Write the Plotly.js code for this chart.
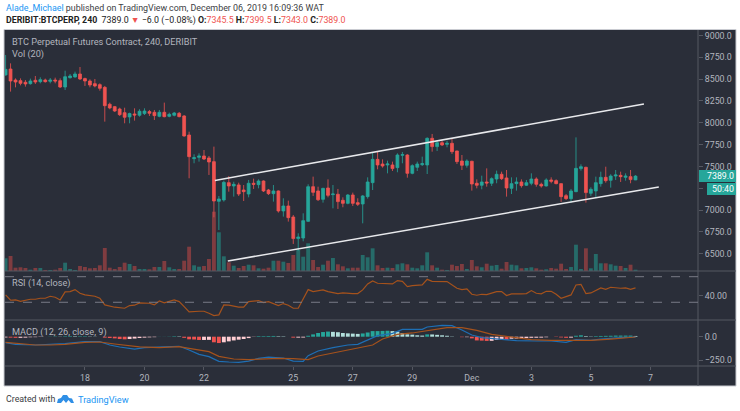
<!DOCTYPE html>
<html>
<head>
<meta charset="utf-8">
<script src="https://cdn.plot.ly/plotly-3.0.1.min.js"></script>
<style>
  html, body { margin: 0; padding: 0; background: #fff; }
  #chart { width: 740px; height: 411px; }
</style>
</head>
<body>
<div id="chart"></div>
<script>
// --- values, one entry per 4h candle ---
const opens = [
  8548, 8616, 8490, 8483, 8464, 8448, 8487, 8471, 8490, 8475,
  8490, 8483, 8410, 8517, 8525, 8559, 8506, 8479, 8448, 8437,
  8406, 8212, 8185, 8158, 8116, 8067, 8101, 8086, 8105, 8128,
  8120, 8074, 8120, 8074, 8086, 8109, 8078, 7860, 7589, 7604,
  7620, 7597, 7555, 7100, 7116, 7314, 7276, 7288, 7230, 7184,
  7307, 7291, 7333, 7230, 7188, 7219, 6990, 7047, 6921, 6673,
  6680, 6871, 7268, 7219, 7123, 7253, 7177, 7181, 7112, 7077,
  7173, 7085, 7070, 7154, 7314, 7581, 7528, 7517, 7517, 7486,
  7627, 7631, 7421, 7490, 7520, 7517, 7822, 7727, 7772, 7753,
  7765, 7677, 7562, 7513, 7559, 7307, 7284, 7322, 7307, 7356,
  7410, 7368, 7249, 7303, 7322, 7284, 7307, 7356, 7295, 7276,
  7345, 7337, 7303, 7165, 7131, 7211, 7475, 7490, 7192, 7219,
  7303, 7375, 7341, 7390, 7398, 7375, 7383, 7345.5
];
const highs = [
  8777, 8681, 8509, 8509, 8490, 8506, 8536, 8521, 8506, 8513,
  8517, 8509, 8597, 8559, 8586, 8639, 8517, 8498, 8502, 8452,
  8422, 8231, 8193, 8173, 8173, 8116, 8166, 8155, 8166, 8147,
  8147, 8147, 8231, 8116, 8124, 8124, 8089, 7898, 7639, 7650,
  7688, 7620, 7727, 7161, 7337, 7390, 7325, 7314, 7287, 7345,
  7360, 7352, 7340, 7242, 7287, 7225, 7135, 7108, 6944, 6734,
  6963, 7295, 7383, 7268, 7255, 7352, 7287, 7242, 7146, 7184,
  7200, 7135, 7173, 7375, 7662, 7669, 7581, 7566, 7555, 7650,
  7665, 7640, 7524, 7555, 7612, 7833, 7872, 7795, 7795, 7795,
  7822, 7680, 7631, 7581, 7565, 7352, 7394, 7478, 7375, 7452,
  7440, 7459, 7375, 7375, 7352, 7345, 7421, 7375, 7314, 7364,
  7375, 7352, 7307, 7184, 7242, 7833, 7524, 7497, 7261, 7383,
  7440, 7497, 7410, 7459, 7440, 7421, 7459, 7399.5
];
const lows = [
  8540, 8357, 8406, 8429, 8414, 8437, 8445, 8452, 8460, 8452,
  8452, 8399, 8376, 8506, 8517, 8490, 8422, 8406, 8406, 8368,
  8013, 8155, 8124, 8078, 7994, 7994, 8025, 8070, 8089, 8078,
  8032, 8063, 8063, 8063, 8074, 8063, 7841, 7364, 7536, 7555,
  7574, 7402, 6917, 6772, 7097, 7211, 7154, 7161, 7104, 7146,
  7242, 7249, 7207, 7173, 7097, 6971, 6925, 6868, 6612, 6535,
  6642, 6865, 7162, 7104, 7085, 7146, 7020, 7013, 7032, 7066,
  7047, 7047, 6848, 7131, 7230, 7467, 7486, 7421, 7448, 7433,
  7536, 7371, 7410, 7448, 7505, 7413, 7669, 7677, 7734, 7719,
  7643, 7528, 7459, 7486, 7223, 7249, 7238, 7268, 7276, 7307,
  7345, 7154, 7184, 7223, 7257, 7276, 7284, 7268, 7257, 7270,
  7307, 7295, 7093, 7116, 7085, 7205, 7452, 7085, 7162, 7146,
  7268, 7314, 7257, 7345, 7322, 7337, 7307, 7343
];
const closes = [
  8612, 8479, 8467, 8452, 8445, 8479, 8467, 8494, 8471, 8490,
  8479, 8410, 8528, 8536, 8559, 8502, 8479, 8433, 8422, 8395,
  8196, 8170, 8135, 8093, 8063, 8105, 8089, 8132, 8135, 8109,
  8082, 8120, 8070, 8097, 8112, 8070, 7849, 7612, 7600, 7620,
  7585, 7551, 7104, 7127, 7318, 7276, 7295, 7184, 7211, 7307,
  7295, 7333, 7219, 7188, 7219, 6990, 7047, 6913, 6673, 6692,
  6879, 7268, 7203, 7119, 7249, 7169, 7184, 7097, 7077, 7173,
  7077, 7066, 7162, 7322, 7581, 7517, 7505, 7528, 7475, 7631,
  7635, 7421, 7509, 7528, 7532, 7822, 7727, 7772, 7746, 7765,
  7669, 7555, 7513, 7562, 7299, 7284, 7322, 7310, 7360, 7410,
  7360, 7253, 7303, 7322, 7280, 7314, 7356, 7295, 7276, 7345,
  7330, 7303, 7154, 7131, 7219, 7478, 7497, 7200, 7238, 7314,
  7375, 7337, 7390, 7402, 7383, 7390, 7349, 7389
];
const volumes = [
  12.7, 15, 3.3, 3.7, 3, 1.3, 3, 3, 1, 1,
  1.3, 3, 8.3, 2, 1, 5, 4, 2.7, 3, 5.7,
  23, 3.3, 2, 4, 8.3, 7, 5, 2, 2, 1.7,
  4, 4, 10, 3.7, 2, 2, 10.3, 24.3, 5.7, 4.3,
  5, 12, 59.3, 38.7, 14.7, 8.7, 5.3, 3, 5, 6.3,
  5.7, 2.7, 2.3, 3.3, 10.3, 10.3, 9.3, 8, 16, 21,
  14.3, 27.7, 11, 4, 6.3, 10.3, 13, 6.7, 4.7, 2.7,
  3.3, 3.3, 16, 13.7, 22.7, 5.7, 3, 3.3, 3, 6.7,
  7.7, 6.7, 3.3, 2.7, 5.7, 18.7, 5.7, 3.3, 1.3, 1,
  6.3, 5, 7, 2, 11, 4.7, 3.7, 7.3, 5.3, 6,
  2.3, 9, 6.3, 5.7, 2.7, 3, 3.7, 2.7, 1.3, 1.7,
  3, 2.3, 7.3, 2, 4, 26.3, 2, 22.7, 2.7, 17,
  7.7, 7.7, 6.7, 5.3, 5, 3, 6.3, 1.3
];
const histogram = [
  -8, -10, -12, -12, -10, -6, -5, -3, 0, 2,
  3, 2, 5, 6, 5, 5, 5, 3, 2, 0,
  -10, -14, -18, -25, -28, -25, -20, -14, -10, -7,
  -5, 1, 1, 2, 5, 4, -12, -28, -30, -35,
  -35, -34, -60, -68, -60, -50, -40, -32, -25, -15,
  -2, 6, 6, 7, 8, 5, 4, 0, -10, -10,
  -9, 10, 25, 40, 50, 55, 52, 48, 40, 36,
  33, 30, 35, 45, 60, 60, 62, 64, 60, 55,
  40, 25, 22, 15, 12, 25, 24, 20, 15, 10,
  3, 0, -5, -5, -18, -40, -42, -45, -44, -35,
  -30, -32, -22, -20, -18, -15, -12, -11, -10, -6,
  0, -3, -8, -12, -10, 10, 15, 6, 3, 6,
  8, 9, 10, 12, 12, 12, 12, 8
];
const candleIndex = opens.map((_, i) => i);

const rsiIndex = [
  0, 1, 2, 3, 5, 6, 7, 8, 9, 10, 11, 12, 13, 14, 15, 16, 18, 19, 20, 21, 22, 24, 25, 26,
  27, 29, 30, 31, 32, 34, 35, 36, 37, 39, 40, 41, 42, 43, 44, 45, 47, 48, 49, 51, 52, 53,
  55, 56, 57, 58, 59, 61, 62, 64, 65, 67, 68, 70, 71, 72, 73, 74, 75, 78, 79, 80, 81, 82,
  84, 85, 86, 89, 91, 92, 93, 94, 95, 96, 97, 99, 100, 101, 102, 104, 105, 106, 107, 108,
  109, 110, 111, 112, 114, 115, 116, 117, 118, 120, 121, 122, 124, 125, 126, 127
];
const rsiValues = [
  41.5, 33.2, 33.7, 31.6, 34.7, 34.7, 36.3, 36.3, 39.4, 37.9, 33.7, 46.2, 46.7, 49.8, 44.1, 41.5,
  39.4, 36.3, 25.9, 23.8, 22.3, 20.7, 24.9, 25.4, 29, 28.5, 25.9, 32.1, 29, 33.7, 31.1, 23.3, 15,
  16, 16, 12.9, 9.3, 10.3, 25.9, 25.4, 22.3, 22.3, 31.1, 32.7, 29.5, 31.1, 24.9, 28, 25.4, 20.7,
  20.7, 49.8, 46.7, 49.3, 46.7, 43.6, 44.6, 43.6, 43.6, 49.3, 58.7, 63.3, 59.7, 58.7, 63.9, 62.8,
  54.5, 56.1, 57.1, 65.9, 62.8, 62.3, 51.9, 49.8, 50.9, 42.5, 41, 42.5, 42, 46.7, 46.7, 40.5,
  43.1, 43.1, 43.6, 48.3, 44.1, 43.1, 47.2, 47.2, 42.5, 36.3, 41.5, 57.1, 58.1, 43.6, 44.6, 52.4,
  50.3, 53.5, 51.9, 52.4, 50.3, 52.4
];
const macdIndex = [
  0, 2, 6, 9, 12, 16, 19, 21, 23, 26, 28, 32, 35, 37, 39, 41, 43, 45, 47, 49, 51, 53, 56, 58,
  60, 61, 63, 66, 69, 71, 72, 73, 75, 78, 80, 84, 85, 88, 90, 92, 94, 96, 100, 103, 107, 110,
  113, 115, 118, 120, 124, 127
];
const macdValues = [
  -64, -82, -89, -82, -75, -53, -53, -89, -110, -132, -118, -110, -103, -143, -189, -214, -264,
  -271, -275, -261, -232, -218, -228, -261, -264, -203, -153, -118, -89, -82, -60, -32, 11, 36,
  79, 79, 104, 122, 118, 72, 18, -10, -25, -43, -46, -46, -60, -32, -39, -25, -10, -3
];
const signalIndex = [
  0, 2, 6, 9, 12, 16, 19, 22, 24, 27, 31, 35, 37, 41, 43, 46, 49, 51, 55, 58, 61, 63, 66, 69,
  72, 74, 76, 79, 82, 86, 89, 92, 95, 98, 102, 106, 110, 114, 118, 122, 127
];
const signalValues = [
  -60, -71, -89, -89, -82, -60, -57, -78, -93, -110, -118, -107, -125, -160, -210, -239, -246,
  -239, -232, -236, -246, -207, -175, -146, -118, -89, -25, 25, 40, 68, 97, 97, 68, 25, -7, -32,
  -39, -43, -39, -25, -3
];

const priceTicks = [6500, 6750, 7000, 7250, 7500, 7750, 8000, 8250, 8500, 8750, 9000];
// the 7250 label sits behind the countdown tag in the picture
const priceTickText = ["6500.0", "6750.0", "7000.0", "", "7500.0", "7750.0", "8000.0", "8250.0", "8500.0", "8750.0", "9000.0"];
const dateTickIndex = [16, 28, 40, 58, 70, 82, 94, 106, 118, 130];
const dateTickText = ["18", "20", "22", "25", "27", "29", "Dec", "3", "5", "7"];

// channel drawn on the chart: [candle index, price]
const upperChannel = [[42.2, 7340], [128.7, 8215]];
const lowerChannel = [[44.8, 6417], [131.7, 7265]];

// --- colours ---
const UP = "#26a69a";
const DOWN = "#ef5350";
const PANEL = "#2a2e39";
const LINE = "#555862";
const TEXT = "#b2b5be";
const BROWN = "#a5521c";
const BLUE = "#1e6fb5";
const FONT = "Roboto";

// --- pixel helpers for page furniture ---
const L = 5, R = 698, T = 30, B = 366;
const px = (x) => (x - L) / (R - L);
const py = (y) => (B - y) / (B - T);

function note(x, y, text, extra) {
  return Object.assign({
    xref: "paper", yref: "paper", x: px(x), y: py(y), text: text,
    showarrow: false, xanchor: "left", yanchor: "middle",
    font: { family: FONT, size: 9.2, color: TEXT },
  }, extra || {});
}

function box(x0, y0, x1, y1, fill, line) {
  return {
    type: "rect", xref: "paper", yref: "paper", layer: "below",
    x0: px(x0), x1: px(x1), y0: py(y0), y1: py(y1),
    fillcolor: fill, line: line || { width: 0 },
  };
}

function rule(x0, y0, x1, y1) {
  return {
    type: "line", xref: "paper", yref: "paper",
    x0: px(x0), x1: px(x1), y0: py(y0), y1: py(y1),
    line: { color: LINE, width: 1 },
  };
}

function histColors() {
  return histogram.map((h, i) => {
    const prev = i > 0 ? histogram[i - 1] : h;
    if (h >= 0) return h >= prev ? UP : "#b2dfdb";
    return h < prev ? DOWN : "#ffcdd2";
  });
}

const traceVolume = {
  x: candleIndex, y: volumes, type: "bar", xaxis: "x", yaxis: "y",
  marker: { color: opens.map((o, i) => (closes[i] >= o ? "#266b69" : "#7f3c40")), line: { width: 0 } },
  width: 0.78,
};

const traceCandles = {
  x: candleIndex, open: opens, high: highs, low: lows, close: closes,
  type: "candlestick", xaxis: "x", yaxis: "y2",
  increasing: { line: { color: UP, width: 0.8 }, fillcolor: UP },
  decreasing: { line: { color: DOWN, width: 0.8 }, fillcolor: DOWN },
};

const traceRsi = {
  x: rsiIndex, y: rsiValues, type: "scatter", mode: "lines", xaxis: "x", yaxis: "y3",
  line: { color: BROWN, width: 1.2 },
};

const traceHist = {
  x: candleIndex, y: histogram, type: "bar", xaxis: "x", yaxis: "y4",
  marker: { color: histColors(), line: { width: 0 } },
  width: 0.78,
};

const traceMacd = {
  x: macdIndex, y: macdValues, type: "scatter", mode: "lines", xaxis: "x", yaxis: "y4",
  line: { color: BLUE, width: 1.2 },
};

const traceSignal = {
  x: signalIndex, y: signalValues, type: "scatter", mode: "lines", xaxis: "x", yaxis: "y4",
  line: { color: BROWN, width: 1.2 },
};

const tickStyle = {
  side: "right", showgrid: false, zeroline: false, showline: false,
  ticks: "outside", ticklen: 4, tickcolor: LINE,
  tickfont: { family: FONT, size: 8.8, color: TEXT },
  fixedrange: true,
};

const channelLine = (pts) => ({
  type: "line", xref: "x", yref: "y2", layer: "above",
  x0: pts[0][0], y0: pts[0][1], x1: pts[1][0], y1: pts[1][1],
  line: { color: "#e8e9ec", width: 1.5 },
});

const rsiGuide = (value) => ({
  type: "line", xref: "paper", yref: "y3", x0: 0, x1: 1, y0: value, y1: value,
  line: { color: "#787b86", width: 1, dash: "dash" },
});

const layout = {
  width: 740,
  height: 411,
  margin: { l: L, r: 740 - R, t: T, b: 411 - B, pad: 0 },
  paper_bgcolor: "#ffffff",
  plot_bgcolor: "rgba(0,0,0,0)",
  showlegend: false,
  hovermode: false,
  barmode: "overlay",
  boxgap: 0.18,
  xaxis: {
    range: [-0.12, 139.6], anchor: "y4",
    tickmode: "array", tickvals: dateTickIndex, ticktext: dateTickText,
    showgrid: false, zeroline: false, showline: false,
    ticks: "outside", ticklen: 3, tickcolor: LINE,
    tickfont: { family: FONT, size: 8.8, color: TEXT },
    rangeslider: { visible: false }, fixedrange: true,
  },
  yaxis: {
    domain: [py(271), 1], range: [0, 241], anchor: "x",
    visible: false, fixedrange: true,
  },
  yaxis2: Object.assign({}, tickStyle, {
    domain: [py(271), 1], range: [6302, 9063], overlaying: "y", anchor: "x",
    tickmode: "array", tickvals: priceTicks, ticktext: priceTickText,
  }),
  yaxis3: Object.assign({}, tickStyle, {
    domain: [py(320), py(271)], range: [2.3, 78.9], anchor: "x",
    tickmode: "array", tickvals: [40], tickformat: ".2f",
  }),
  yaxis4: Object.assign({}, tickStyle, {
    domain: [0, py(320)], range: [-314, 179], anchor: "x",
    tickmode: "array", tickvals: [-250, 0], tickformat: ".1f",
  }),
  shapes: [
    box(4, 29.5, 736, 386, PANEL, { color: "#c9cbd1", width: 1 }),
    rule(5, 271, 736, 271),
    rule(5, 320, 736, 320),
    rule(5, 366, 736, 366),
    rule(698, 30, 698, 386),
    rsiGuide(30),
    rsiGuide(70),
    channelLine(upperChannel),
    channelLine(lowerChannel),
    Object.assign(box(699, 170, 736, 182, UP), { layer: "above" }),
    Object.assign(box(707, 183, 736, 195, UP), { layer: "above" }),
    // TradingView cloud logo
    {
      type: "path", xref: "paper", yref: "paper", layer: "above",
      fillcolor: "#2f8fe6", line: { width: 0 },
      path: "M" + [[57, 403], [58, 399], [61, 398], [63, 395], [67, 395], [69, 398], [72, 398.5], [74, 403], [71, 403], [68.5, 400], [66, 403], [63.5, 400], [61, 403]]
        .map((p) => px(p[0]) + "," + py(p[1])).join("L") + "Z",
    },
  ],
  annotations: [
    note(4, 8, '<span style="color:#2196f3">Alade_Michael</span> published on TradingView.com, December 06, 2019 16:09:36 WAT',
      { font: { family: FONT, size: 8.9, color: "#3c4043" } }),
    note(4, 20, '<b>DERIBIT:BTCPERP, 240</b>  7389.0 <span style="color:#ef5350">▼</span> −6.0 (−0.08%) <b>O:</b><span style="color:#ef5350">7345.5</span> <b>H:</b><span style="color:#ef5350">7399.5</span> <b>L:</b><span style="color:#ef5350">7343.0</span> <b>C:</b><span style="color:#ef5350">7389.0</span>',
      { font: { family: FONT, size: 8.8, color: "#222222" } }),
    note(10, 41, "BTC Perpetual Futures Contract, 240, DERIBIT"),
    note(10, 54, "Vol (20)"),
    note(10, 283, "RSI (14, close)"),
    note(10, 332, "MACD (12, 26, close, 9)"),
    note(4, 399, "Created with", { font: { family: FONT, size: 8.8, color: "#3c4043" } }),
    note(76, 399, "TradingView", { font: { family: FONT, size: 9.2, color: "#2196f3" } }),
    note(705, 176, "7389.0", { font: { family: FONT, size: 8.8, color: "#ffffff" } }),
    note(710, 189, "50:40", { font: { family: FONT, size: 8.8, color: "#ffffff" } }),
  ],
};

Plotly.newPlot(
  "chart",
  [traceVolume, traceCandles, traceRsi, traceHist, traceMacd, traceSignal],
  layout,
  { staticPlot: true, displayModeBar: false }
);
</script>
</body>
</html>
